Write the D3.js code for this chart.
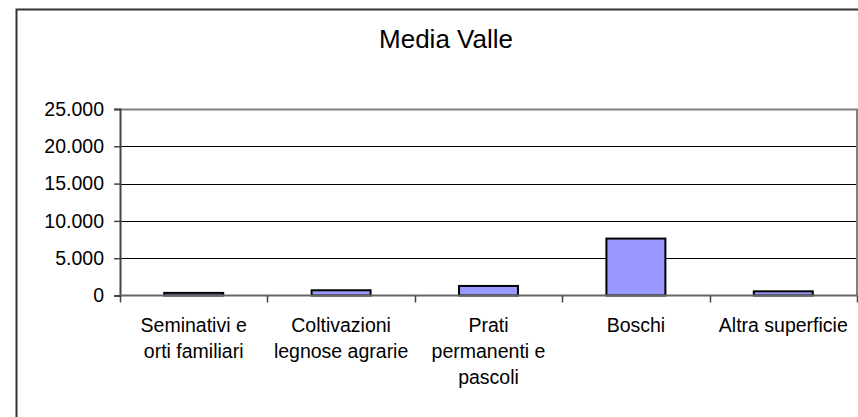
<!DOCTYPE html>
<html>
<head>
<meta charset="utf-8">
<script src="https://cdn.jsdelivr.net/npm/d3@7"></script>
<style>
  body { margin: 0; background: #fff; }
  text { font-family: "Liberation Sans", Arial, sans-serif; fill: #000; }
</style>
</head>
<body>
<div id="chart"></div>
<script>
// data
const categories = ["Seminativi e\norti familiari", "Coltivazioni\nlegnose agrarie", "Prati\npermanenti e\npascoli", "Boschi", "Altra superficie"];
const values = [350, 700, 1280, 7630, 560];
const yTicks = [0, 5000, 10000, 15000, 20000, 25000];
const title = "Media Valle";

const svgWidth = 858;
const svgHeight = 417;

// plot area edges
const plot = { left: 120, right: 857, top: 109, bottom: 295.5 };

const svg = d3.select("#chart")
  .append("svg")
  .attr("width", svgWidth)
  .attr("height", svgHeight);

// outer chart frame (runs off the picture on the right and bottom)
svg.append("rect")
  .attr("x", 16.5)
  .attr("y", 9.5)
  .attr("width", 900)
  .attr("height", 500)
  .attr("fill", "#fff")
  .attr("stroke", "#333")
  .attr("stroke-width", 2);

// bar sits centred in its category slot, ~40% of the slot wide
const x = d3.scaleBand()
  .domain(categories)
  .range([plot.left, plot.right])
  .paddingInner(0.6)
  .paddingOuter(0.3);

const y = d3.scaleLinear()
  .domain([0, 25000])
  .range([plot.bottom, plot.top]);

const it = d3.formatLocale({ decimal: ",", thousands: ".", grouping: [3], currency: ["€", ""] });
const fmt = it.format(",d");

// gridlines
svg.append("g")
  .selectAll("line")
  .data(yTicks.filter(d => d > 0 && d < 25000))
  .join("line")
  .attr("x1", plot.left)
  .attr("x2", plot.right)
  .attr("y1", d => Math.round(y(d)) + 0.5)
  .attr("y2", d => Math.round(y(d)) + 0.5)
  .attr("stroke", "#000")
  .attr("stroke-width", 1);

// plot border top / right
svg.append("path")
  .attr("d", `M${plot.left},${plot.top + 0.5}H${plot.right}V${plot.bottom}`)
  .attr("fill", "none")
  .attr("stroke", "#808080")
  .attr("stroke-width", 2);

// bars
svg.append("g")
  .selectAll("rect")
  .data(values)
  .join("rect")
  .attr("x", (d, i) => x(categories[i]))
  .attr("y", d => y(d))
  .attr("width", x.bandwidth())
  .attr("height", d => plot.bottom - y(d))
  .attr("fill", "#9999FF")
  .attr("stroke", "#000")
  .attr("stroke-width", 2);

// y axis
const yAxis = d3.axisLeft(y)
  .tickValues(yTicks)
  .tickSize(6)
  .tickPadding(10)
  .tickFormat(fmt);

const gy = svg.append("g")
  .attr("transform", `translate(${plot.left},0)`)
  .call(yAxis);
gy.select(".domain").attr("stroke", "#444").attr("stroke-width", 2);
gy.selectAll(".tick line").attr("stroke", "#444").attr("stroke-width", 1.5);
gy.selectAll(".tick text")
  .attr("font-size", 19.5)
  .attr("font-family", "Liberation Sans, Arial, sans-serif");

// x axis line and ticks at category boundaries
const bounds = d3.range(categories.length + 1).map(i => plot.left + i * (plot.right - plot.left) / categories.length);
svg.append("line")
  .attr("x1", plot.left)
  .attr("x2", plot.right)
  .attr("y1", plot.bottom)
  .attr("y2", plot.bottom)
  .attr("stroke", "#666")
  .attr("stroke-width", 2);
svg.append("g")
  .selectAll("line")
  .data(bounds)
  .join("line")
  .attr("x1", d => Math.round(d) + 0.5)
  .attr("x2", d => Math.round(d) + 0.5)
  .attr("y1", plot.bottom)
  .attr("y2", plot.bottom + 7)
  .attr("stroke", "#444")
  .attr("stroke-width", 1.5);

// category labels
const labels = svg.append("g")
  .selectAll("text")
  .data(categories)
  .join("text")
  .attr("text-anchor", "middle")
  .attr("font-size", 19.5)
  .attr("y", 332);
labels.each(function (d) {
  const cx = x(d) + x.bandwidth() / 2;
  d3.select(this).selectAll("tspan")
    .data(d.split("\n"))
    .join("tspan")
    .attr("x", cx)
    .attr("dy", (t, i) => i === 0 ? 0 : 26)
    .text(t => t);
});

// title
svg.append("text")
  .attr("x", 446)
  .attr("y", 48)
  .attr("text-anchor", "middle")
  .attr("font-size", 26)
  .text(title);
</script>
</body>
</html>
